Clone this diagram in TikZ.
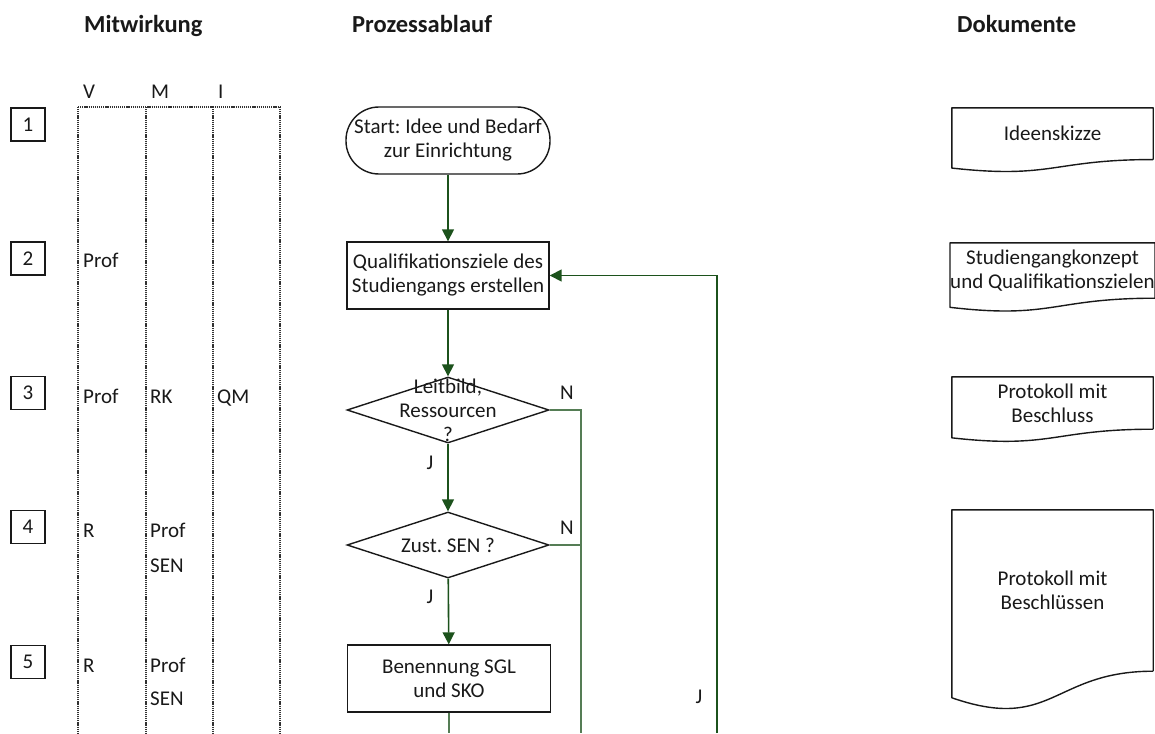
\documentclass[tikz,border=0pt]{standalone}
\usepackage{fontspec}
\setmainfont{Carlito}
\usetikzlibrary{arrows.meta,calc,shapes.geometric}
\definecolor{flowgreen}{RGB}{28,82,28}
\definecolor{branchgreen}{RGB}{85,125,85}
\definecolor{inkgray}{RGB}{25,25,25}
\definecolor{gridgray}{RGB}{50,50,50}
\frenchspacing

% document symbol: the node is the text area, the wavy bottom hangs below it
\newcommand\docoutline[1]{%
  \draw[docline] (#1.south east) -- (#1.north east) -- (#1.north west)
    -- ($(#1.north west)!1.1646!(#1.south west)$)
    .. controls ($(#1.north)!1.381!(#1.south)$) and (#1.south) .. (#1.south east);}

\begin{document}
\begin{tikzpicture}[x=1pt,y=-1pt,
  every node/.style={font=\fontsize{21}{24}\selectfont, text=inkgray},
  heading/.style={font=\fontsize{24.5}{29}\selectfont\bfseries, anchor=base west, inner sep=0pt},
  celltext/.style={anchor=base west, inner sep=0pt},
  stepbox/.style={draw=inkgray, line width=1.4pt, minimum width=34pt, minimum height=33pt, inner sep=0pt},
  procbox/.style={draw=inkgray, line width=1.4pt, minimum width=202pt, minimum height=67pt, inner sep=0pt, align=center},
  startbox/.style={procbox, minimum width=204pt, rounded corners=33pt},
  decision/.style={diamond, draw=inkgray, line width=1.4pt, minimum width=202pt, minimum height=66pt, inner sep=0pt},
  docbox/.style={minimum width=201pt, inner sep=0pt, align=center},
  docline/.style={draw=inkgray, line width=1.4pt, line join=round},
  flow/.style={draw=flowgreen, line width=1.6pt, -{Triangle[width=12pt,length=12pt]}},
  branch/.style={draw=branchgreen, line width=1.6pt},
  gridline/.style={draw=gridgray, line width=1.4pt, dash pattern=on 1.2pt off 0.9pt},
  yn/.style={inner sep=0pt}
]
\useasboundingbox (0,0) rectangle (1155,733);

% column headings
\node[heading] (hMit) at (84,33) {Mitwirkung};
\node[heading] (hProz) at (352,33) {Prozessablauf};
\node[heading] (hDok) at (957,33) {Dokumente};

% participation grid
\node[celltext] (cV) at (83,98.5) {V};
\node[celltext] (cM) at (151,98.5) {M};
\node[celltext] (cI) at (218,98.5) {I};
\draw[gridline] (78,107) -- (280,107);
\foreach \gx in {78,146,213,280} \draw[gridline] (\gx,107) -- (\gx,733);

% step numbers
\node[stepbox] (s1) at (28,124.5) {1};
\node[stepbox] (s2) at (28,258.5) {2};
\node[stepbox] (s3) at (28,393) {3};
\node[stepbox] (s4) at (28,527) {4};
\node[stepbox] (s5) at (28,662) {5};

% participants per step
\node[celltext] (r2v) at (83,267) {Prof};
\node[celltext] (r3v) at (83,403) {Prof};
\node[celltext] (r3m) at (150,403) {RK};
\node[celltext] (r3i) at (217,403) {QM};
\node[celltext] (r4v) at (83,537) {R};
\node[celltext] (r4m) at (150,537) {Prof};
\node[celltext] (r4n) at (150,572) {SEN};
\node[celltext] (r5v) at (83,672) {R};
\node[celltext] (r5m) at (150,672) {Prof};
\node[celltext] (r5n) at (150,705) {SEN};

% process flow
\node[startbox] (start) at (448,140.5) {Start: Idee und Bedarf\\zur Einrichtung};
\node[procbox] (qual) at (448,275.5) {Qualifikationsziele des\\Studiengangs erstellen};
\node[decision, label={[align=center, inner sep=0pt]center:{Leitbild,\\Ressourcen\\?}}] (dec1) at (448,410) {};
\node[decision, label={[inner sep=0pt]center:{Zust. SEN ?}}] (dec2) at (448,545) {};
\node[procbox, minimum width=203pt] (benn) at (449,678.5) {Benennung SGL\\und SKO};

\coordinate (flowend) at (449,733);
\coordinate (nend) at (581,733);
\coordinate (jend) at (717,733);

\draw[flow] (start) -- (qual);
\draw[flow] (qual) -- (dec1);
\draw[flow] (dec1) -- (dec2);
\draw[flow] (dec2) -- (benn);
\draw[branch] (benn.south -| flowend) -- (flowend);
\draw[branch] (dec1.east) -| (nend);
\draw[branch] (dec2.east) -- (dec2.east -| nend);
\draw[flow] (jend) |- (qual.east);

\node[yn] (n1) at (567,393) {N};
\node[yn] (n2) at (567,528) {N};
\node[yn] (j1) at (430,463) {J};
\node[yn] (j2) at (430,597) {J};
\node[yn] (j3) at (699,697) {J};

% documents
\node[docbox, minimum height=51.3pt] (doc1) at (1052.5,133.7) {Ideenskizze};
\node[docbox, minimum height=55pt] (doc2) at (1052.5,270.5) {Studiengangkonzept\\und Qualifikationszielen};
\node[docbox, minimum height=52pt] (doc3) at (1052.5,403) {Protokoll mit\\Beschluss};
\node[docbox, minimum height=161pt] (doc4) at (1052.5,590.5) {Protokoll mit\\Beschlüssen};
\docoutline{doc1}
\docoutline{doc2}
\docoutline{doc3}
\docoutline{doc4}
\end{tikzpicture}
\end{document}
